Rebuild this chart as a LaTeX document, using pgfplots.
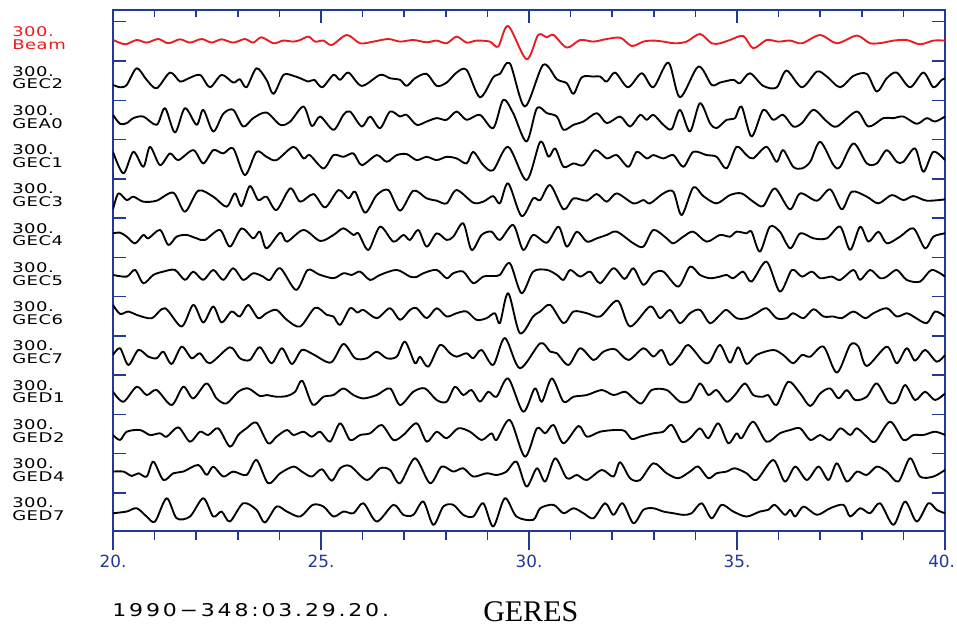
\documentclass[border=0pt]{standalone}
\usepackage{fontspec}
\setmainfont{DejaVu Sans}
\newfontfamily\labfont[FakeStretch=1.35,LetterSpace=4]{DejaVu Sans}
\newfontfamily\tickfont{DejaVu Sans}
\newfontfamily\datefont[FakeStretch=1.25,LetterSpace=16]{DejaVu Sans}
\newfontfamily\titlefont{Liberation Serif}
\usepackage{pgfplots}
\pgfplotsset{compat=1.18}
\usepackage{pgfplotstable}
\definecolor{axblue}{RGB}{35,55,150}
\definecolor{beamred}{RGB}{232,28,32}

% amplitudes in pixel units, positive upwards, relative to each trace's baseline
\pgfplotstableread[row sep=\\]{x a\\
20.00 1.5\\20.29 -3.0\\20.57 1.3\\20.81 -1.3\\21.09 2.3\\21.33 -2.0\\21.61 2.0\\21.85 -1.3\\22.13 2.3\\22.37 -1.3\\22.61 2.0\\22.89 -1.3\\23.17 2.3\\23.37 -1.3\\23.57 4.0\\23.86 -2.0\\24.09 0.7\\24.34 -0.3\\24.50 1.3\\24.70 4.7\\24.86 -0.3\\25.06 0.7\\25.26 -3.7\\25.62 6.3\\25.94 -2.0\\26.26 -0.3\\26.62 2.3\\26.90 -0.3\\27.22 1.3\\27.54 -1.0\\27.78 0.7\\28.02 -2.0\\28.26 4.7\\28.50 -1.3\\28.74 0.7\\29.06 -0.3\\29.26 -5.3\\29.50 15.3\\29.94 -18.0\\30.22 6.3\\30.43 4.0\\30.59 6.3\\30.91 -6.3\\31.23 1.3\\31.55 -0.3\\31.87 2.3\\32.20 3.5\\32.47 -4.7\\32.75 -0.3\\32.99 0.7\\33.23 -0.3\\33.51 -2.0\\33.79 -0.3\\34.11 7.3\\34.39 -2.0\\34.59 -2.0\\34.83 1.3\\35.15 5.3\\35.39 -7.0\\35.71 1.3\\35.99 -0.3\\36.28 0.7\\36.56 -2.0\\37.00 6.3\\37.40 -2.0\\37.88 5.7\\38.20 -2.0\\38.52 -1.3\\38.76 0.7\\39.08 1.3\\39.40 -3.0\\39.72 0.7\\40.00 0.7\\
}\tBeam
\pgfplotstableread[row sep=\\]{x a\\
20.00 -4.3\\20.17 -6.7\\20.33 -4.3\\20.57 12.3\\20.81 0.7\\21.05 -7.7\\21.37 8.0\\21.61 -1.0\\21.77 1.3\\22.09 5.7\\22.33 -6.7\\22.61 5.7\\22.89 -2.0\\23.05 1.3\\23.21 -6.7\\23.45 12.3\\23.69 0.7\\23.86 -13.3\\24.10 5.7\\24.34 4.7\\24.50 2.3\\24.70 -1.0\\24.84 0.7\\25.03 -6.7\\25.30 5.7\\25.46 0.7\\25.66 8.0\\25.98 -5.3\\26.42 5.7\\26.66 2.3\\26.90 0.7\\27.06 -5.3\\27.26 2.3\\27.54 6.7\\27.78 -5.3\\28.02 -2.0\\28.26 8.0\\28.50 10.7\\28.82 -16.7\\29.14 3.3\\29.30 6.7\\29.54 17.3\\29.90 -26.0\\30.34 15.7\\30.67 1.3\\30.91 -2.7\\31.07 -13.3\\31.27 3.3\\31.55 4.0\\31.71 4.0\\31.87 -1.0\\32.07 8.0\\32.38 -6.7\\32.71 7.3\\32.99 -6.7\\33.35 18.0\\33.63 -16.7\\34.07 14.0\\34.39 -4.3\\34.59 -2.0\\34.91 0.7\\35.07 -2.7\\35.31 7.3\\35.63 -5.3\\35.95 -7.0\\36.19 10.0\\36.56 -6.7\\36.92 9.0\\37.16 4.0\\37.48 -6.7\\37.80 4.7\\38.12 6.7\\38.36 -11.0\\38.60 2.3\\38.84 8.0\\39.16 -6.7\\39.48 8.0\\39.72 -6.7\\39.92 0.7\\40.00 2.0\\
}\tGECtwo
\pgfplotstableread[row sep=\\]{x a\\
20.00 5.0\\20.17 -4.0\\20.33 -3.3\\20.49 1.7\\20.73 3.3\\21.05 -5.0\\21.25 11.7\\21.49 -12.7\\21.73 11.7\\22.01 -5.0\\22.17 10.0\\22.41 -11.7\\22.65 6.0\\22.89 10.0\\23.13 -6.7\\23.37 1.7\\23.69 7.3\\24.02 -5.0\\24.26 -1.7\\24.58 13.3\\24.78 -6.3\\24.98 3.3\\25.30 -10.0\\25.54 5.0\\25.70 8.3\\25.98 -6.7\\26.18 3.3\\26.42 -8.3\\26.66 8.3\\26.90 3.3\\27.06 5.0\\27.30 -5.0\\27.54 -1.7\\27.78 1.7\\28.02 0\\28.26 8.3\\28.50 0\\28.82 5.0\\29.14 -8.3\\29.38 20.0\\29.62 6.7\\29.94 -21.7\\30.19 11.7\\30.43 6.7\\30.67 3.3\\30.83 -10.0\\31.07 -5.0\\31.31 -1.7\\31.63 6.7\\31.87 -3.3\\32.19 3.3\\32.43 -6.7\\32.67 5.0\\32.83 0\\32.99 5.0\\33.23 -5.0\\33.43 -9.3\\33.63 10.0\\33.87 -11.7\\34.11 16.7\\34.35 -3.3\\34.51 -8.3\\34.75 0\\34.95 1.7\\35.11 13.3\\35.35 -16.7\\35.63 10.0\\35.87 0\\36.11 5.0\\36.35 -6.7\\36.56 -3.3\\36.84 10.0\\37.16 -1.7\\37.40 -6.7\\37.88 8.3\\38.16 -6.7\\38.52 1.7\\38.76 1.7\\39.00 3.3\\39.32 -4.0\\39.56 1.7\\39.76 -1.7\\40.00 3.3\\
}\tGEAzero
\pgfplotstableread[row sep=\\]{x a\\
20.00 7.3\\20.25 -14.3\\20.49 7.3\\20.73 -7.7\\20.89 12.3\\21.13 -6.0\\21.37 5.7\\21.57 -1.0\\21.93 9.0\\22.17 -4.3\\22.41 9.0\\22.65 5.7\\22.89 10.7\\23.17 -16.0\\23.45 7.3\\23.69 2.3\\23.93 -1.0\\24.34 12.3\\24.58 0.7\\24.73 4.0\\25.06 -9.3\\25.30 4.0\\25.54 2.3\\25.78 5.7\\25.98 -6.0\\26.34 4.0\\26.58 -2.7\\26.82 4.0\\27.06 5.0\\27.30 -1.0\\27.54 2.3\\27.78 -1.0\\28.02 2.3\\28.26 0.7\\28.50 -4.3\\28.66 7.3\\28.90 -6.0\\29.14 -11.0\\29.50 12.3\\29.94 -21.0\\30.27 17.3\\30.47 2.3\\30.63 10.7\\30.83 -7.7\\31.07 -4.3\\31.31 -6.0\\31.59 9.0\\31.87 0.7\\32.11 4.0\\32.39 -7.7\\32.59 7.3\\32.83 0.7\\32.99 4.0\\33.23 0.7\\33.47 4.0\\33.71 -7.7\\33.95 7.3\\34.27 4.0\\34.51 2.3\\34.75 -9.3\\34.99 12.3\\35.23 4.0\\35.39 0.7\\35.71 12.3\\35.95 -2.7\\36.11 9.0\\36.35 -7.7\\36.56 -9.3\\36.76 -2.7\\37.00 17.3\\37.32 -6.0\\37.48 -7.7\\37.80 15.7\\38.12 -4.3\\38.36 -4.3\\38.60 9.0\\38.84 -2.7\\39.00 -2.7\\39.28 10.7\\39.48 -12.7\\39.72 7.3\\40.00 -1.0\\
}\tGECone
\pgfplotstableread[row sep=\\]{x a\\
20.00 -11.0\\20.13 5.0\\20.33 -1.7\\20.49 1.7\\20.73 -3.3\\21.05 -2.3\\21.45 5.7\\21.73 -13.3\\22.05 7.7\\22.41 1.7\\22.73 -8.3\\22.93 5.0\\23.09 -7.7\\23.29 12.3\\23.49 -1.7\\23.69 1.7\\23.93 -11.7\\24.26 10.0\\24.50 -3.3\\24.82 4.3\\25.10 -9.0\\25.42 8.3\\25.66 0\\25.82 6.7\\26.06 -14.3\\26.34 3.3\\26.62 8.3\\26.90 -12.3\\27.22 7.7\\27.54 0\\27.78 -2.3\\28.02 -5.0\\28.26 8.3\\28.66 -4.3\\28.90 -3.3\\29.14 2.3\\29.30 -5.0\\29.50 15.0\\29.82 -17.7\\30.10 0\\30.27 -1.7\\30.51 13.3\\30.83 -11.0\\31.07 0\\31.39 -2.3\\31.63 4.3\\31.87 -3.3\\32.11 5.0\\32.51 -5.0\\32.75 -1.7\\32.91 -5.0\\33.23 5.0\\33.47 6.7\\33.67 -16.7\\33.95 11.0\\34.19 2.3\\34.51 -5.0\\34.83 3.3\\35.11 5.0\\35.39 -3.3\\35.63 -7.7\\35.91 10.0\\36.27 -11.0\\36.52 5.0\\36.92 -2.3\\37.24 9.0\\37.52 -11.0\\37.76 6.7\\38.12 1.7\\38.40 -5.0\\38.72 3.3\\39.00 -1.7\\39.24 2.3\\39.56 -2.3\\40.00 -1.0\\
}\tGECthree
\pgfplotstableread[row sep=\\]{x a\\
20.00 4.3\\20.17 5.0\\20.33 1.0\\20.53 -5.7\\20.73 2.7\\20.85 -0.7\\21.13 7.7\\21.33 -7.3\\21.53 1.0\\21.77 2.7\\22.01 -0.7\\22.21 -2.3\\22.57 7.7\\22.81 -9.0\\23.09 9.3\\23.37 -0.7\\23.53 6.0\\23.69 -10.7\\24.02 5.0\\24.18 -4.0\\24.58 7.7\\24.98 -3.3\\25.30 2.7\\25.54 9.3\\25.78 2.7\\25.90 4.3\\26.14 -12.3\\26.42 11.0\\26.74 -4.0\\26.98 2.7\\27.14 -2.3\\27.34 7.7\\27.54 -9.0\\27.78 4.3\\28.02 -2.3\\28.18 1.0\\28.42 14.3\\28.62 -12.3\\28.86 2.7\\29.10 6.0\\29.30 -2.3\\29.62 12.7\\29.86 -12.3\\30.10 2.7\\30.43 -5.0\\30.71 11.0\\30.91 -9.0\\31.15 6.0\\31.39 -4.0\\31.63 -0.7\\31.87 2.7\\32.11 6.0\\32.51 -5.7\\32.75 -9.0\\32.99 7.7\\33.31 -0.7\\33.47 -5.7\\33.71 1.0\\33.95 6.0\\34.27 -4.0\\34.59 2.7\\34.83 1.0\\34.99 6.0\\35.23 4.3\\35.35 6.0\\35.55 -14.0\\35.79 11.0\\36.03 6.0\\36.28 -10.7\\36.52 4.3\\36.84 -0.7\\37.16 -0.7\\37.48 11.0\\37.72 -12.3\\37.96 11.0\\38.16 -4.0\\38.40 6.0\\38.60 -5.7\\38.92 1.0\\39.24 9.3\\39.52 -10.7\\39.72 1.0\\40.00 4.3\\
}\tGECfour
\pgfplotstableread[row sep=\\]{x a\\
20.00 2.0\\20.33 0.3\\20.53 7.0\\20.73 -6.3\\20.97 2.0\\21.21 5.3\\21.49 7.0\\21.73 -3.0\\21.93 5.3\\22.17 -3.0\\22.41 7.0\\22.65 -3.0\\22.89 8.7\\23.13 -3.0\\23.37 3.7\\23.61 0.3\\23.77 -3.0\\24.02 8.7\\24.40 -13.0\\24.68 7.0\\24.95 2.5\\25.30 -1.3\\25.54 3.7\\25.74 2.0\\25.94 5.3\\26.18 -3.0\\26.42 2.0\\26.82 7.0\\27.14 0.3\\27.30 0\\27.46 3.7\\27.78 7.0\\28.02 -1.3\\28.18 3.7\\28.42 5.3\\28.66 -6.3\\28.90 0.3\\29.14 1.0\\29.30 2.0\\29.54 13.7\\29.82 -16.3\\30.10 5.3\\30.43 7.0\\30.67 2.0\\30.83 -3.0\\30.99 7.0\\31.23 0.3\\31.47 5.3\\31.71 -6.3\\32.03 8.7\\32.30 -2.0\\32.51 8.7\\32.75 -8.0\\32.99 3.7\\33.23 5.3\\33.59 -9.7\\33.87 10.3\\34.11 2.0\\34.35 -1.3\\34.59 0.3\\34.75 2.0\\34.91 -1.3\\35.15 5.3\\35.35 -4.7\\35.71 15.3\\36.03 -14.7\\36.32 7.0\\36.56 0.3\\36.80 5.3\\37.00 -1.3\\37.28 0.3\\37.48 -3.0\\37.80 7.0\\37.96 -3.0\\38.20 7.0\\38.44 -1.3\\38.60 0.3\\38.84 7.0\\39.08 -3.0\\39.40 -4.7\\39.68 7.0\\40.00 0.3\\
}\tGECfive
\pgfplotstableread[row sep=\\]{x a\\
20.00 11.3\\20.17 2.3\\20.37 4.7\\20.57 1.3\\20.93 -2.0\\21.25 8.0\\21.65 -10.3\\21.93 11.3\\22.17 -6.3\\22.41 9.7\\22.61 -6.3\\22.85 4.7\\23.05 -0.3\\23.25 11.3\\23.49 -2.0\\23.69 3.0\\23.93 6.3\\24.18 -3.7\\24.50 -10.3\\24.86 8.5\\25.14 1.3\\25.30 -0.3\\25.46 -8.7\\25.70 8.0\\25.88 3.5\\26.02 6.3\\26.34 -2.0\\26.66 8.0\\26.90 -3.7\\27.14 6.3\\27.30 8.0\\27.54 -2.0\\27.78 8.0\\28.02 -0.3\\28.26 3.0\\28.50 4.7\\28.74 -3.7\\28.98 -2.0\\29.18 3.0\\29.30 -7.0\\29.50 23.0\\29.78 -17.0\\30.10 -0.3\\30.27 4.7\\30.51 11.3\\30.83 -7.0\\31.07 4.7\\31.39 3.0\\31.71 -0.3\\32.13 15.5\\32.43 -10.3\\32.91 9.7\\33.15 -2.0\\33.39 6.3\\33.63 -7.0\\33.87 3.0\\34.11 6.3\\34.35 -7.0\\34.59 1.3\\34.75 6.3\\34.99 -2.0\\35.23 -2.0\\35.47 3.0\\35.71 8.0\\35.95 -2.0\\36.19 -2.0\\36.35 3.0\\36.60 -2.0\\36.84 7.0\\37.08 -0.3\\37.32 -0.3\\37.52 -2.0\\37.80 4.7\\38.08 -2.0\\38.28 3.0\\38.60 8.0\\38.84 -0.3\\39.08 3.0\\39.24 -0.3\\39.56 -7.0\\39.76 4.7\\40.00 -0.3\\
}\tGECsix
\pgfplotstableread[row sep=\\]{x a\\
20.00 0.5\\20.17 7.2\\20.37 -9.5\\20.61 5.5\\20.85 -1.2\\21.05 -2.8\\21.21 3.8\\21.41 -8.5\\21.65 8.8\\21.89 -2.8\\22.09 2.2\\22.33 -7.8\\22.81 8.2\\23.05 -2.8\\23.29 -4.5\\23.53 8.2\\23.81 -7.8\\24.06 7.2\\24.30 -8.5\\24.54 5.5\\24.82 1.0\\25.24 -7.0\\25.54 11.5\\25.82 -2.8\\26.10 -2.8\\26.34 3.8\\26.58 -2.8\\26.82 -1.2\\27.02 13.8\\27.26 -7.8\\27.38 -1.2\\27.58 -11.2\\27.86 10.5\\28.10 2.2\\28.26 -1.2\\28.50 2.2\\28.66 -2.8\\28.86 5.5\\29.14 -9.5\\29.42 17.5\\29.78 -12.8\\30.27 12.2\\30.51 3.8\\30.67 2.2\\30.95 -9.5\\31.23 7.2\\31.55 -4.5\\31.79 3.8\\32.07 6.2\\32.39 -4.5\\32.75 7.2\\32.99 -1.2\\33.19 5.5\\33.39 -9.5\\33.63 0.5\\33.83 10.5\\34.19 -6.2\\34.35 -6.2\\34.59 10.5\\34.83 -7.2\\35.03 8.2\\35.23 -8.5\\35.47 0.5\\35.87 5.5\\36.11 0.5\\36.35 -7.8\\36.56 0.5\\36.76 -1.2\\37.08 8.8\\37.40 -17.2\\37.72 10.5\\37.92 8.8\\38.12 -10.5\\38.60 8.8\\38.84 -7.8\\39.08 7.2\\39.28 -5.2\\39.52 5.5\\39.80 -6.2\\40.00 0.5\\
}\tGECseven
\pgfplotstableread[row sep=\\]{x a\\
20.00 3.0\\20.25 -7.0\\20.57 8.0\\20.81 -0.3\\21.05 4.7\\21.41 -10.3\\21.69 8.0\\21.93 -3.7\\22.25 11.3\\22.49 -3.7\\22.73 -8.7\\23.01 3.0\\23.25 6.3\\23.53 -1.3\\23.69 -0.3\\23.93 -2.0\\24.18 -1.3\\24.38 3.0\\24.55 14.0\\24.80 -10.0\\25.06 -2.0\\25.30 -0.3\\25.54 6.3\\25.78 -0.3\\26.02 -3.7\\26.34 -0.3\\26.66 6.3\\26.90 -10.3\\27.22 3.0\\27.50 6.3\\27.78 -5.3\\28.02 -7.0\\28.22 8.0\\28.42 -0.3\\28.62 4.7\\28.82 -7.0\\29.02 3.0\\29.22 -2.0\\29.50 16.3\\29.86 -17.0\\30.14 6.3\\30.31 -7.0\\30.55 16.3\\30.83 -7.0\\31.07 -2.0\\31.39 -0.3\\31.75 4.7\\32.03 -0.3\\32.31 3.0\\32.51 -3.7\\32.71 -8.7\\32.95 4.7\\33.31 4.7\\33.63 -7.0\\33.87 -5.3\\34.11 11.3\\34.31 -0.3\\34.51 4.7\\34.75 -7.0\\34.95 -0.3\\35.19 11.3\\35.39 -0.3\\35.63 -2.0\\35.75 -0.3\\35.95 -10.3\\36.23 13.0\\36.52 1.3\\36.76 -11.3\\37.00 1.3\\37.24 6.3\\37.44 -3.7\\37.64 4.7\\37.84 -5.3\\38.12 -2.0\\38.36 11.3\\38.64 -7.0\\38.84 -7.0\\39.04 9.7\\39.28 -5.3\\39.52 3.0\\39.76 -5.3\\40.00 1.3\\
}\tGEDone
\pgfplotstableread[row sep=\\]{x a\\
20.00 -1.0\\20.17 -6.0\\20.33 2.3\\20.65 4.0\\20.89 -1.0\\21.13 0.7\\21.29 -2.7\\21.57 6.7\\21.85 -7.7\\22.09 2.3\\22.29 -1.0\\22.53 5.7\\22.81 -12.7\\23.01 -1.0\\23.21 5.7\\23.45 11.3\\23.73 -9.3\\23.93 -2.7\\24.18 4.0\\24.34 -1.0\\24.58 2.3\\24.78 -2.7\\24.98 2.3\\25.22 -7.7\\25.46 10.7\\25.70 -6.0\\25.94 -1.0\\26.18 0.7\\26.46 9.0\\26.74 -6.0\\26.98 -1.0\\27.30 10.7\\27.54 -7.7\\27.78 2.3\\28.02 -4.3\\28.30 5.7\\28.58 2.3\\28.86 -6.0\\29.10 0.7\\29.22 -6.0\\29.54 14.0\\29.90 -22.7\\30.19 5.7\\30.39 0.7\\30.59 9.0\\30.83 -9.3\\31.19 8.0\\31.39 -2.7\\31.71 2.3\\32.07 4.0\\32.30 3.0\\32.47 -5.0\\32.67 -2.7\\32.99 0.7\\33.23 2.3\\33.43 9.0\\33.67 -7.7\\33.87 -4.3\\34.11 5.7\\34.31 -4.3\\34.55 10.7\\34.79 -9.3\\34.99 0.7\\35.11 -4.3\\35.39 12.3\\35.71 -7.7\\36.03 0.7\\36.28 4.0\\36.52 5.7\\36.76 -6.0\\37.00 -1.0\\37.24 -6.0\\37.48 5.7\\37.72 -1.0\\37.88 5.7\\38.12 -2.7\\38.32 -7.7\\38.68 12.3\\39.00 -6.0\\39.24 -1.0\\39.48 -1.0\\39.76 2.3\\40.00 -1.0\\
}\tGEDtwo
\pgfplotstableread[row sep=\\]{x a\\
20.00 1.7\\20.25 1.7\\20.45 -2.7\\20.61 0\\20.81 -3.3\\20.97 11.7\\21.21 -6.7\\21.45 0\\21.69 1.7\\22.05 8.3\\22.25 -1.7\\22.41 6.7\\22.65 -3.3\\22.89 1.7\\23.21 -1.7\\23.45 13.3\\23.73 -10.0\\24.02 0\\24.34 6.7\\24.54 1.7\\24.78 -3.3\\25.02 4.0\\25.26 -7.5\\25.46 5.0\\25.70 7.3\\26.10 -6.7\\26.42 5.0\\26.66 3.3\\26.90 -10.0\\27.26 15.0\\27.62 -10.0\\27.90 6.7\\28.18 1.7\\28.42 5.0\\28.66 -3.3\\28.98 0\\29.22 -1.7\\29.46 1.7\\29.70 11.7\\29.94 -13.3\\30.19 5.0\\30.39 -8.3\\30.63 15.0\\30.91 -5.0\\31.15 -1.7\\31.39 -6.7\\31.75 3.3\\32.03 -3.3\\32.19 11.0\\32.43 -5.0\\32.67 -6.7\\32.99 10.0\\33.31 0\\33.59 -5.0\\33.87 1.7\\34.07 6.7\\34.31 -5.0\\34.51 0\\34.75 1.7\\34.95 5.0\\35.23 0\\35.47 -6.7\\35.87 13.3\\36.15 -8.3\\36.40 6.7\\36.68 -6.7\\36.96 6.7\\37.20 -6.7\\37.40 10.0\\37.64 -8.3\\37.88 1.7\\38.12 -1.7\\38.36 6.7\\38.60 1.7\\38.88 -8.3\\39.16 15.0\\39.40 -3.3\\39.72 -3.3\\40.00 3.3\\
}\tGEDfour
\pgfplotstableread[row sep=\\]{x a\\
20.00 -0.7\\20.33 1.0\\20.57 4.3\\20.81 -4.0\\21.01 -9.0\\21.29 14.3\\21.53 -5.7\\21.85 -4.0\\22.17 14.3\\22.41 -4.0\\22.61 1.0\\22.81 -9.0\\23.13 9.3\\23.45 2.7\\23.65 -10.0\\23.93 6.0\\24.18 1.0\\24.50 -4.0\\24.80 7.7\\25.06 6.0\\25.30 -4.0\\25.54 1.0\\25.78 -0.7\\26.02 9.3\\26.34 -9.0\\26.74 7.7\\26.98 -2.3\\27.22 -2.3\\27.46 11.0\\27.70 -12.3\\27.94 6.0\\28.18 7.7\\28.42 -2.3\\28.66 -4.0\\28.90 9.3\\29.14 -14.0\\29.42 14.3\\29.70 -4.0\\30.10 -7.3\\30.27 4.3\\30.59 7.7\\30.83 -0.7\\31.07 4.3\\31.31 -0.7\\31.55 -5.7\\31.83 9.3\\32.03 -2.3\\32.25 9.3\\32.51 -10.7\\32.75 2.7\\32.99 4.3\\33.23 1.0\\33.47 -0.7\\33.71 -2.3\\33.91 -0.7\\34.15 9.3\\34.39 -5.7\\34.63 7.7\\34.91 1.0\\35.23 -4.0\\35.55 1.0\\35.75 2.7\\35.91 7.7\\36.15 -2.3\\36.28 2.7\\36.40 -4.0\\36.60 6.0\\36.92 -2.3\\37.24 4.3\\37.56 7.7\\37.72 -4.0\\37.96 4.3\\38.20 -0.7\\38.44 9.3\\38.76 -12.3\\39.04 11.0\\39.32 -9.0\\39.60 9.3\\39.80 2.7\\40.00 -0.7\\
}\tGEDseven

\begin{document}
\begin{tikzpicture}
\path[use as bounding box] (-84.75pt,-71.25pt) rectangle (633pt,398.25pt);
\begin{axis}[
  scale only axis, width=624pt, height=390.75pt,
  xmin=20, xmax=40, ymin=0, ymax=521,
  axis line style={axblue, line width=1.3pt},
  xtick={20,25,30,35,40}, xticklabels={20.,25.,30.,35.,\hspace*{-5pt}40.},
  minor x tick num=4,
  xtick pos=left, tick align=outside,
  major tick length=14.5pt, minor tick length=7pt,
  tick style={axblue, line width=1.1pt},
  ytick=\empty,
  xticklabel style={font=\tickfont\fontsize{12.6}{15}\selectfont, text=axblue},
  clip mode=individual,
  every axis plot/.append style={line width=1.4pt, smooth, line join=round},
]
\addplot[beamred] table[x=x, y expr=\thisrow{a}+489.70] {\tBeam};
\addplot[black] table[x=x, y expr=\thisrow{a}+450.43] {\tGECtwo};
\addplot[black] table[x=x, y expr=\thisrow{a}+411.16] {\tGEAzero};
\addplot[black] table[x=x, y expr=\thisrow{a}+371.89] {\tGECone};
\addplot[black] table[x=x, y expr=\thisrow{a}+332.62] {\tGECthree};
\addplot[black] table[x=x, y expr=\thisrow{a}+293.35] {\tGECfour};
\addplot[black] table[x=x, y expr=\thisrow{a}+254.08] {\tGECfive};
\addplot[black] table[x=x, y expr=\thisrow{a}+214.81] {\tGECsix};
\addplot[black] table[x=x, y expr=\thisrow{a}+175.54] {\tGECseven};
\addplot[black] table[x=x, y expr=\thisrow{a}+136.27] {\tGEDone};
\addplot[black] table[x=x, y expr=\thisrow{a}+97.00] {\tGEDtwo};
\addplot[black] table[x=x, y expr=\thisrow{a}+57.73] {\tGEDfour};
\addplot[black] table[x=x, y expr=\thisrow{a}+18.46] {\tGEDseven};
\tikzset{lab/.style={anchor=west, align=left, inner sep=0pt, font=\labfont\fontsize{10}{9.6}\selectfont}}
\node[lab, text=beamred] at (axis cs:17.572,492.70) {300.\\Beam};
\node[lab] at (axis cs:17.572,453.43) {300.\\GEC2};
\node[lab] at (axis cs:17.572,414.16) {300.\\GEA0};
\node[lab] at (axis cs:17.572,374.89) {300.\\GEC1};
\node[lab] at (axis cs:17.572,335.62) {300.\\GEC3};
\node[lab] at (axis cs:17.572,296.35) {300.\\GEC4};
\node[lab] at (axis cs:17.572,257.08) {300.\\GEC5};
\node[lab] at (axis cs:17.572,217.81) {300.\\GEC6};
\node[lab] at (axis cs:17.572,178.54) {300.\\GEC7};
\node[lab] at (axis cs:17.572,139.27) {300.\\GED1};
\node[lab] at (axis cs:17.572,100.00) {300.\\GED2};
\node[lab] at (axis cs:17.572,60.73) {300.\\GED4};
\node[lab] at (axis cs:17.572,21.46) {300.\\GED7};
\node[anchor=base west, inner sep=0pt, font=\datefont\fontsize{13.2}{16}\selectfont] at (axis cs:19.98,-85) {1990−348:03.29.20.};
\node[anchor=base west, inner sep=0pt, font=\titlefont\fontsize{22.5}{27}\selectfont] at (axis cs:28.894,-90) {GERES};
\end{axis}
\begin{axis}[
  scale only axis, width=624pt, height=390.75pt,
  xmin=20, xmax=40, ymin=0, ymax=521,
  axis line style={draw=none},
  xtick={20,25,30,35,40}, xticklabels={},
  minor x tick num=4,
  xtick pos=right,
  ytick={38.06,77.33,116.60,155.87,195.14,234.41,273.68,312.95,352.22,391.49,430.76,470.03,509.30},
  yticklabels={}, ytick pos=both,
  tick align=inside,
  major tick length=9.4pt, minor tick length=5pt,
  tick style={axblue, line width=1.1pt},
]
\end{axis}
\end{tikzpicture}
\end{document}
